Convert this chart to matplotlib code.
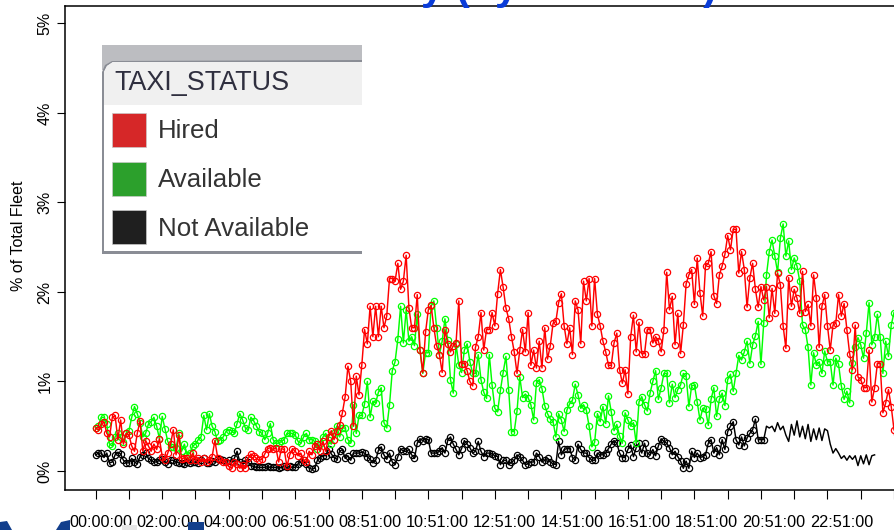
import matplotlib
matplotlib.use('Agg')
import matplotlib.pyplot as plt
import matplotlib.patches as patches
from matplotlib.transforms import IdentityTransform, ScaledTranslation

plt.rcParams['font.family'] = ['Liberation Sans', 'DejaVu Sans']

# one sample every 5 minutes, one tick per hour
hired = [
    .48, .46, .52, .55, .42, .38, .60, .62, .35, .57, .30, .42,
    .40, .28, .22, .42, .56, .22, .34, .28, .22, .30, .24, .36,
    .16, .12, .20, .30, .46, .18, .40, .13, .15, .14, .12, .20,
    .12, .15, .10, .14, .10, .12, .16, .34, .15, .12, .10, .10,
    .05, .03, .10, .08, .03, .07, .03, .14, .19, .17, .14, .12,
    .13, .19, .25, .26, .24, .26, .10, .25, .24, .05, .18, .25,
    .22, .17, .20, .12, .10, .22, .18, .28, .30, .22, .33, .22,
    .38, .45, .35, .45, .51, .65, .83, 1.17, 1.0, .5, 1.06, .85,
    1.18, 1.58, 1.42, 1.84, 1.5, 1.84, 1.5, 1.84, 1.6, 1.73, 2.15, 2.15,
    2.12, 2.32, 2.03, 2.12, 2.41, 1.82, 1.6, 1.6, 1.97, 1.35, 1.1, 1.55,
    1.8, 1.85, 1.6, 1.4, 1.3, 1.1, 1.58, 1.42, 1.33, 1.4, 1.43, 1.9,
    1.2, 1.2, 1.12, 1.0, .95, 1.38, 1.5, 1.77, 1.35, 1.58, 1.58, 1.77,
    1.62, 1.98, 2.25, 2.05, 1.82, 1.7, 1.5, 1.33, 1.09, 1.35, 1.58, 1.33,
    1.77, 1.18, 1.35, 1.15, 1.45, 1.15, 1.6, 1.25, 1.4, 1.65, 1.67, 1.88,
    1.98, 1.62, 1.42, 1.6, 1.3, 1.9, 1.8, 1.42, 2.12, 1.9, 2.15, 1.62,
    2.15, 1.75, 1.62, 1.45, 1.33, 1.18, 1.18, 1.43,
    1.54, 1.13, .98, 1.13, .86, 1.5, 1.74, 1.33, 1.66, 1.31, 1.31, 1.58,
    1.58, 1.43, 1.5, 1.45, 1.33, 1.58, 2.22, 1.8, 1.95, 1.41, 1.76, 1.31,
    1.63, 2.09, 2.19, 2.25, 1.86, 2.38, 1.99, 1.73, 2.29, 2.32, 2.45, 1.96,
    1.87, 2.19, 2.29, 2.42, 2.63, 2.47, 2.7, 2.7, 2.21, 2.45, 2.25, 1.83,
    2.16, 2.32, 2.03, 1.83, 2.06, 1.91, 2.06, 1.71, 2.04, 1.76, 2.21, 2.08,
    1.62, 1.37, 2.16, 1.84, 2.03, 1.93, 1.76, 2.23, 1.78, 1.86, 1.62, 2.19,
    1.93, 1.38, 1.84, 1.97, 1.62, 1.35, 1.63, 1.65, 1.97, 1.73, 1.87, 1.58,
    1.31, 1.13, 1.63, 1.05, 1.02, .93, .93, 1.35, .77, .93, 1.2, 1.2,
    .65, .76, .91, .72, .46, .41, .45,
]
available = [
    .48, .5, .6, .6, .52, .3, .28, .38, .42, .38, .32, .42,
    .45, .6, .72, .64, .54, .38, .42, .52, .55, .6, .5, .36,
    .61, .47, .33, .27, .27, .26, .42, .22, .3, .18, .2, .28,
    .3, .35, .38, .62, .46, .64, .5, .44, .33, .35, .38, .44,
    .46, .45, .42, .53, .64, .57, .48, .46, .6, .56, .5, .44,
    .42, .35, .42, .53, .35, .31, .31, .33, .35, .42, .42, .42,
    .4, .33, .31, .38, .42, .35, .35, .33, .25, .3, .38, .42,
    .35, .3, .42, .5, .38, .48, .48, .35, .31, .74, .42, .62,
    .62, .75, 1.0, .6, .78, .76, .88, .93, .54, .48, .74, 1.12,
    1.22, 1.47, 1.84, 1.43, 1.8, 1.45, 1.5, 1.4, 1.75, 1.35, 1.09, 1.32,
    1.32, 1.84, 1.9, 1.6, 1.3, 1.45, 1.7, 1.46, 1.02, .87, 1.42, 1.18,
    1.1, 1.35, 1.42, 1.22, 1.09, 1.09, 1.3, 1.02, .88, .81, 1.3, .96,
    .7, .66, .9, 1.1, 1.28, .9, .44, .44, .67, 1.05, .82, .86,
    .82, .74, .57, .98, 1.02, .92, .73, .64, .58, .55, .38, .64,
    .57, .44, .68, .75, .79, .97, .85, .7, .74, .68, .5, .27,
    .32, .64, .55, .72, .53, .84, .66, .45,
    .52, .39, .31, .65, .57, .5, .54, .31, .77, .83, .74, .67,
    .87, 1.0, 1.12, .8, .93, 1.09, 1.09, .76, .97, .82, .91, .96,
    1.09, 1.06, .72, .95, .96, .77, .57, .7, .69, .51, .8, .93,
    .61, .8, .87, .73, 1.02, 1.08, .89, 1.09, 1.29, 1.24, 1.33, 1.45,
    1.2, 1.41, 1.51, 1.67, 1.19, 1.65, 2.19, 2.45, 2.58, 2.4, 2.22, 2.6,
    2.76, 2.4, 2.57, 2.25, 2.38, 2.29, 2.12, 1.63, 1.58, 1.38, .96, 1.32,
    1.18, 1.22, 1.09, 1.34, 1.22, 1.22, .96, 1.26, 1.19, .95, .8, .89,
    .76, 1.21, 1.39, 1.49, 1.41, 1.26, 1.54, 1.88, 1.41, 1.5, 1.75, 1.5,
    1.09, 1.45, 1.28, 1.63, 1.77,
]
not_available = [
    .18, .2, .2, .15, .2, .09, .1, .18, .21, .19, .12, .09,
    .09, .14, .1, .08, .16, .18, .2, .14, .12, .1, .1, .12,
    .13, .1, .08, .12, .12, .1, .09, .09, .08, .1, .09, .1,
    .1, .09, .12, .14, .09, .09, .11, .1, .13, .13, .12, .1,
    .12, .1, .14, .22, .1, .08, .12, .1, .06, .05, .04, .04,
    .04, .04, .05, .04, .04, .04, .03, .04, .05, .04, .05, .04,
    .04, .08, .1, .12, .08, .03, .02, .03, .12, .15, .17, .17,
    .25, .19, .15, .13, .22, .24, .14, .17, .12, .2, .2, .2,
    .21, .2, .16, .13, .09, .12, .23, .27, .18, .13, .2, .1,
    .07, .16, .25, .22, .22, .24, .18, .14, .31, .36, .34, .36,
    .35, .2, .2, .2, .22, .26, .2, .34, .38, .3, .24, .18,
    .25, .34, .3, .26, .2, .22, .33, .22, .16, .2, .2, .19,
    .17, .16, .07, .12, .12, .07, .1, .12, .18, .16, .12, .07,
    .08, .1, .1, .2, .16, .1, .12, .14, .1, .08, .07, .33,
    .18, .24, .25, .25, .15, .12, .3, .24, .2, .2, .15, .12,
    .12, .2, .18, .18, .2, .25, .3, .34,
    .31, .2, .15, .15, .24, .29, .16, .26, .31, .2, .31, .2,
    .18, .24, .17, .28, .36, .33, .31, .26, .18, .22, .16, .11,
    .03, .11, .03, .22, .15, .2, .15, .16, .18, .31, .35, .2,
    .26, .18, .35, .24, .44, .5, .55, .35, .29, .38, .28, .37,
    .42, .46, .58, .35, .35, .35,
    .5, .48, .5, .44, .54, .46, .5, .4, .33, .52, .4, .56,
    .38, .5, .36, .52, .33, .47, .35, .48, .34, .47, .45, .3,
    .2, .25, .2, .14, .17, .12, .17, .13, .17, .06, .17, .08, .18, .07, .17, .18,
]
markers_black = 242  # last stretch of the black line has no circles

hour_ticks = list(range(0, 289, 12))
x_labels = ['00:00:00', '02:00:00', '04:00:00', '06:51:00', '08:51:00', '10:51:00',
            '12:51:00', '14:51:00', '16:51:00', '18:51:00', '20:51:00', '22:51:00']
y_values = [0, 1, 2, 3, 4, 5]
legend_title = 'TAXI_STATUS'
legend_names = ['Hired', 'Available', 'Not Available']
legend_colors = ['#d62728', '#2ca02c', '#1f1f1f']

W, H = 894, 530
fig = plt.figure(figsize=(W / 100, H / 100), dpi=100)
ax = fig.add_axes([65 / W, 1 - 489.5 / H, 1 - 65 / W, 484 / H])

ax.plot(range(len(not_available)), not_available, color='black', linewidth=1.05, marker='o', ms=4.5,
        mfc='none', mew=0.9, markevery=list(range(markers_black)), zorder=2)
ax.plot(range(len(available)), available, color='#00ff00', linewidth=1.05, marker='o', ms=4.5,
        mfc='none', mew=0.9, zorder=3)
ax.plot(range(len(hired)), hired, color='#ff0000', linewidth=1.05, marker='o', ms=4.5,
        mfc='none', mew=0.9, zorder=4)

ax.set_xlim(-11.07, 285)
ax.set_ylim(-0.207, 5.2)
ax.spines['right'].set_visible(False)
for s in ['left', 'top', 'bottom']:
    ax.spines[s].set_linewidth(1.1)

ax.set_yticks(y_values)
ax.set_yticklabels([str(v) + '%' for v in y_values], rotation=90, va='center', fontsize=11.5)
ax.tick_params(axis='y', length=6, width=0.8, pad=3)
ax.set_xticks(hour_ticks)
ax.set_xticklabels([x_labels[i // 2] if i % 2 == 0 and i // 2 < len(x_labels) else ''
                    for i in range(len(hour_ticks))], fontsize=11.7)
ax.tick_params(axis='x', length=6.5, width=0.8, pad=12)
# the labels drift a little to the right of their ticks
for k, lab in enumerate(ax.get_xticklabels()):
    lab.set_transform(lab.get_transform() + ScaledTranslation((5 + k * 0.4) / 100, 0, fig.dpi_scale_trans))

fig.text(19 / W, 1 - 235.5 / H, '% of Total Fleet', rotation=90, ha='center', va='center', fontsize=11.5)

# title of the slide behind the chart, only its lower edge is on the picture
fig.text(135 / W, 1 + 1 / H, 'Taxi Availability (by Location)', color='#0a3cd8', fontsize=30,
         fontweight='bold', ha='left', va='baseline')


# legend pasted over the plot as a screenshot, drawn in pixels from the top left
def px(pts):
    return [(x, H - y) for x, y in pts]


def add_poly(pts, **kw):
    fig.add_artist(patches.Polygon(px(pts), closed=True, transform=IdentityTransform(), **kw))


add_poly([(102, 45), (362, 45), (362, 70), (102, 70)], fc='#bcbdc1', ec='none', zorder=5)
add_poly([(102, 254), (102, 72), (105, 65), (112, 61), (362, 60), (362, 254)], fc='#8a8d95', ec='none', zorder=6)
add_poly([(104, 251), (104, 72), (107, 66), (113, 62), (362, 62), (362, 251)], fc='white', ec='none', zorder=7)
add_poly([(104, 105), (104, 72), (107, 66), (113, 62), (362, 62), (362, 105)], fc='#f0f0f0', ec='none', zorder=8)
fig.text(114 / W, 1 - 83 / H, legend_title, color='#2f2f3f', fontsize=19.4, ha='left', va='center', zorder=9)
for k in range(len(legend_names)):
    top = 113 + k * 48.7
    add_poly([(112, top), (146, top), (146, top + 34), (112, top + 34)],
             fc=legend_colors[k], ec='#c8c8c8', lw=0.5, zorder=9)
    fig.text(158 / W, 1 - (top + 18.5) / H, legend_names[k], color='#333333', fontsize=18.6,
             ha='left', va='center', zorder=9)

# bits of the slide logos under the chart
add_poly([(0, 530), (0, 522), (7, 521), (12, 530)], fc='#123f8c', ec='none', zorder=1)
add_poly([(56, 530), (61, 522), (70, 520), (70, 530)], fc='#123f8c', ec='none', zorder=1)
add_poly([(188, 530), (188, 522), (204, 522), (204, 530)], fc='#123f8c', ec='none', zorder=1)
add_poly([(122, 530), (122, 525), (137, 525), (137, 530)], fc='#e6e6e6', ec='none', zorder=1)

plt.savefig('out.png', dpi=100)
